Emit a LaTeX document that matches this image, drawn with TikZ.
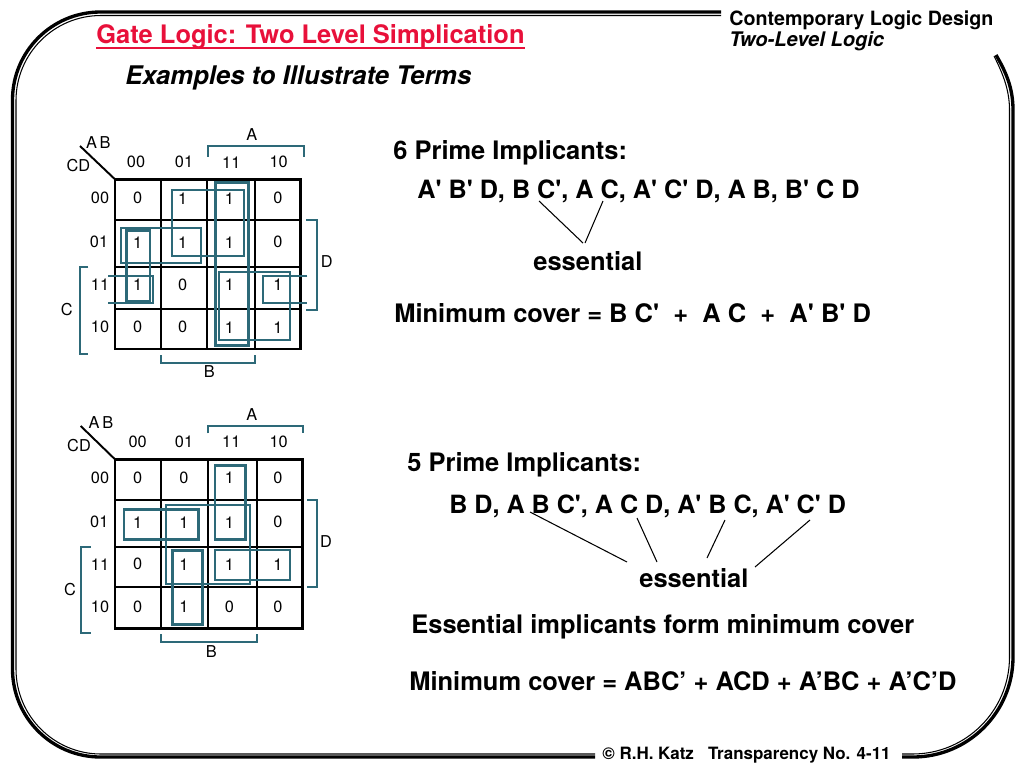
\documentclass[tikz,border=0pt]{standalone}
\usepackage{fontspec}
\usepackage{xcolor}
\newfontfamily\heros{TeX Gyre Heros}
\definecolor{loopteal}{RGB}{45,105,120}
\definecolor{titlered}{RGB}{232,16,58}
\usetikzlibrary{positioning}

\begin{document}
\begin{tikzpicture}[
  x=0.02cm, y=-0.02cm,
  frameout/.style={draw, line width=1.9pt},
  framein/.style={draw, line width=0.6pt},
  gridout/.style={draw, line width=1.5pt},
  gridin/.style={draw, line width=1.2pt},
  looprect/.style={draw=loopteal, line width=1.3pt},
  loopthick/.style={draw=loopteal, line width=1.7pt},
  loopwrap/.style={draw=loopteal, line width=1.0pt},
  brace/.style={draw=loopteal, line width=1.1pt},
  cell/.style={font=\heros\fontsize{9.3}{11}\selectfont, inner sep=0pt},
  headline/.style={font=\heros\bfseries\fontsize{14.5}{17}\selectfont, inner sep=0pt, anchor=west},
  listline/.style={headline, font=\heros\bfseries\fontsize{14.35}{17}\selectfont},
  leader/.style={draw, line width=0.6pt},
]
  \useasboundingbox (0,0) rectangle (1024,768);

  % ===== Slide frame =====
  \draw[frameout, rounded corners=1.76cm] (721,12) -- (12.5,12) -- (12.5,757) -- (595,757);
  \draw[framein, rounded corners=1.7cm] (721,15.5) -- (16,15.5) -- (16,754) -- (595,754);
  \draw[frameout, rounded corners=2cm] (902,757) -- (1013,757) -- (1013,110);
  \draw[framein, rounded corners=1.94cm] (902,754) -- (1009.5,754) -- (1009.5,110);
  \draw[frameout] (1013,110) .. controls (1013,88) and (1006,72) .. (996,55);
  \draw[framein] (1009.5,110) .. controls (1009.5,90) and (1003,74) .. (994,56);

  % ===== Slide titles =====
  \node[headline, text=titlered] (title) at (96,37) {Gate Logic: Two Level Simplication};
  \draw[titlered, line width=1.1pt] ([yshift=-2.3pt]title.base west) -- ([yshift=-2.3pt]title.base east);
  \node[headline, font=\heros\bfseries\itshape\fontsize{14.6}{17}\selectfont] (subtitle) at (125,77.5) {Examples to Illustrate Terms};
  \node[font=\heros\bfseries\fontsize{11.2}{13}\selectfont, inner sep=0pt, anchor=west] (course) at (729,20) {Contemporary Logic Design};
  \node[font=\heros\bfseries\itshape\fontsize{11.45}{13}\selectfont, inner sep=0pt, anchor=west] (chapter) at (729,41) {Two-Level Logic};
  \node[font=\heros\bfseries\fontsize{9.65}{11}\selectfont, inner sep=0pt, anchor=west] (footer) at (602,755) {© R.H. Katz\ \ \ Transparency No. 4-11};

  % ===== First map =====
  \draw[gridout] (115,179.3) rectangle (300.7,349);
  \draw[gridin] (160.7,179.3) -- (160.7,349) (207,179.3) -- (207,349) (254.7,179.3) -- (254.7,349);
  \draw[gridin] (115,220.3) -- (300.7,220.3) (115,267.3) -- (300.7,267.3) (115,309.3) -- (300.7,309.3);
  \draw[line width=1.1pt] (80,146) -- (115,179.3);

  \node[cell] (ab1) at (98.3,142.7) {A\,B};
  \node[cell] (cd1) at (78.3,166) {CD};
  \node[cell] (t1a) at (136,162.3) {00};
  \node[cell] (t1b) at (184,162.3) {01};
  \node[cell] (t1c) at (231.3,162.3) {11};
  \node[cell] (t1d) at (278.7,162.3) {10};
  \node[cell] (s1a) at (100,198.3) {00};
  \node[cell] (s1b) at (99,242.3) {01};
  \node[cell] (s1c) at (100,285) {11};
  \node[cell] (s1d) at (100,327.3) {10};

  \node[cell] (m1a) at (137.7,198.3) {0};
  \node[cell] (m1b) at (182.7,198.3) {1};
  \node[cell] (m1c) at (229.3,198.3) {1};
  \node[cell] (m1d) at (278,198.3) {0};
  \node[cell] (m1e) at (137.7,242.3) {1};
  \node[cell] (m1f) at (182.7,242.3) {1};
  \node[cell] (m1g) at (229.3,242.3) {1};
  \node[cell] (m1h) at (278,242.3) {0};
  \node[cell] (m1i) at (137.7,285) {1};
  \node[cell] (m1j) at (182.7,285) {0};
  \node[cell] (m1k) at (229.3,285) {1};
  \node[cell] (m1l) at (278,285) {1};
  \node[cell] (m1m) at (137.7,327.3) {0};
  \node[cell] (m1n) at (182.7,327.3) {0};
  \node[cell] (m1o) at (229.3,327.3) {1};
  \node[cell] (m1p) at (278,327.3) {1};

  % Groupings
  \draw[loopthick] (215.7,182.7) rectangle (248.3,345.7);
  \draw[looprect] (172.3,190) rectangle (244,255.7);
  \draw[looprect] (121,228.3) rectangle (201,262.7);
  \draw[loopthick] (126.7,230) rectangle (150,301.7);
  \draw[loopwrap] (108.3,275.7) -| (152.7,303.3) -- (108.3,303.3);
  \draw[loopwrap] (307.3,275.7) -| (262.7,303.3) -- (307.3,303.3);
  \draw[looprect] (219,272.3) rectangle (290,340);

  % Variable brackets
  \draw[brace] (207.7,156.7) |- (304,146) -- (304,156.7);
  \draw[brace] (160.7,355) |- (255,362.7) -- (255,355);
  \draw[brace] (88.3,267) -| (80,354.3) -- (88.3,354.3);
  \draw[brace] (306,220.3) -| (316.7,310) -- (306,310);
  \node[cell] (a1) at (251.7,135) {A};
  \node[cell] (b1) at (209.3,371.7) {B};
  \node[cell] (c1) at (66.7,310) {C};
  \node[cell] (d1) at (326.7,261.7) {D};

  % ===== Second map =====
  \draw[gridout] (115,459.3) rectangle (302.7,628.7);
  \draw[gridin] (160.7,459.3) -- (160.7,628.7) (208,459.3) -- (208,628.7) (256.7,459.3) -- (256.7,628.7);
  \draw[gridin] (115,500) -- (302.7,500) (115,546.7) -- (302.7,546.7) (115,587.3) -- (302.7,587.3);
  \draw[line width=1.1pt] (80.7,426) -- (115,459.3);

  \node[cell] (ab2) at (101,422.7) {A\,B};
  \node[cell] (cd2) at (79,446) {CD};
  \node[cell] (t2a) at (137.7,441.7) {00};
  \node[cell] (t2b) at (184,441.7) {01};
  \node[cell] (t2c) at (231.3,441.7) {11};
  \node[cell] (t2d) at (278.7,441.7) {10};
  \node[cell] (s2a) at (100,477.7) {00};
  \node[cell] (s2b) at (99.3,522.3) {01};
  \node[cell] (s2c) at (100,564.3) {11};
  \node[cell] (s2d) at (100,606.7) {10};

  \node[cell] (m2a) at (137.7,477.7) {0};
  \node[cell] (m2b) at (184,477.7) {0};
  \node[cell] (m2c) at (229.3,477.7) {1};
  \node[cell] (m2d) at (278,477.7) {0};
  \node[cell] (m2e) at (137.7,522.3) {1};
  \node[cell] (m2f) at (184,522.3) {1};
  \node[cell] (m2g) at (229.3,522.3) {1};
  \node[cell] (m2h) at (278,522.3) {0};
  \node[cell] (m2i) at (137.7,564.3) {0};
  \node[cell] (m2j) at (184,564.3) {1};
  \node[cell] (m2k) at (229.3,564.3) {1};
  \node[cell] (m2l) at (278,564.3) {1};
  \node[cell] (m2m) at (137.7,606.7) {0};
  \node[cell] (m2n) at (184,606.7) {1};
  \node[cell] (m2o) at (229.3,606.7) {0};
  \node[cell] (m2p) at (278,606.7) {0};

  % Groupings
  \draw[loopthick] (215,465) rectangle (245.7,539.3);
  \draw[loopthick] (124,509) rectangle (198.3,539.3);
  \draw[looprect] (166,505.3) rectangle (250,584.3);
  \draw[loopthick] (172.3,550) rectangle (202.7,624.3);
  \draw[looprect] (215,550) rectangle (290,580);

  % Variable brackets
  \draw[brace] (207.7,433.3) |- (303.3,425.7) -- (303.3,433.3);
  \draw[brace] (160.7,634.3) |- (256.7,642.3) -- (256.7,634.3);
  \draw[brace] (90.7,547) -| (80.7,633.3) -- (90.7,633.3);
  \draw[brace] (307.3,500) -| (316.7,587) -- (307.3,587);
  \node[cell] (a2) at (251.7,415) {A};
  \node[cell] (b2) at (211.3,651.7) {B};
  \node[cell] (c2) at (70,590) {C};
  \node[cell] (d2) at (326,541.7) {D};

  % ===== First column of notes =====
  \node[headline] (pi1) at (393,153) {6 Prime Implicants:};
  \node[listline] (list1) at (417,191) {A' B' D, B C', A C, A' C' D, A B, B' C D};
  \node[headline] (ess1) at (533,261) {essential};
  \node[headline] (min1) at (394,313.5) {Minimum cover = B C'\ \ +\ \ A C\ \ +\ \ A' B' D};
  \coordinate (u1) at (539,201);
  \coordinate (u2) at (603,201);
  \coordinate (v1) at (583,243);
  \coordinate (v2) at (585,243);
  \draw[leader] (u1) -- (v1);
  \draw[leader] (u2) -- (v2);

  % ===== Second column of notes =====
  \node[headline] (pi2) at (407,464.5) {5 Prime Implicants:};
  \node[listline, font=\heros\bfseries\fontsize{14.3}{17}\selectfont] (list2) at (449,506) {B D, A B C', A C D, A' B C, A' C' D};
  \node[headline] (ess2) at (639,578) {essential};
  \node[headline] (form2) at (411,626.5) {Essential implicants form minimum cover};
  \node[headline] (min2) at (409,681) {Minimum cover = ABC’ + ACD + A’BC + A’C’D};
  \coordinate (u3) at (530,512);
  \coordinate (u4) at (637,518);
  \coordinate (u5) at (725,520);
  \coordinate (u6) at (810,520);
  \coordinate (v3) at (627,562);
  \coordinate (v4) at (657,562);
  \coordinate (v5) at (707,558);
  \coordinate (v6) at (755,567);
  \draw[leader] (u3) -- (v3);
  \draw[leader] (u4) -- (v4);
  \draw[leader] (u5) -- (v5);
  \draw[leader] (u6) -- (v6);

\end{tikzpicture}
\end{document}
